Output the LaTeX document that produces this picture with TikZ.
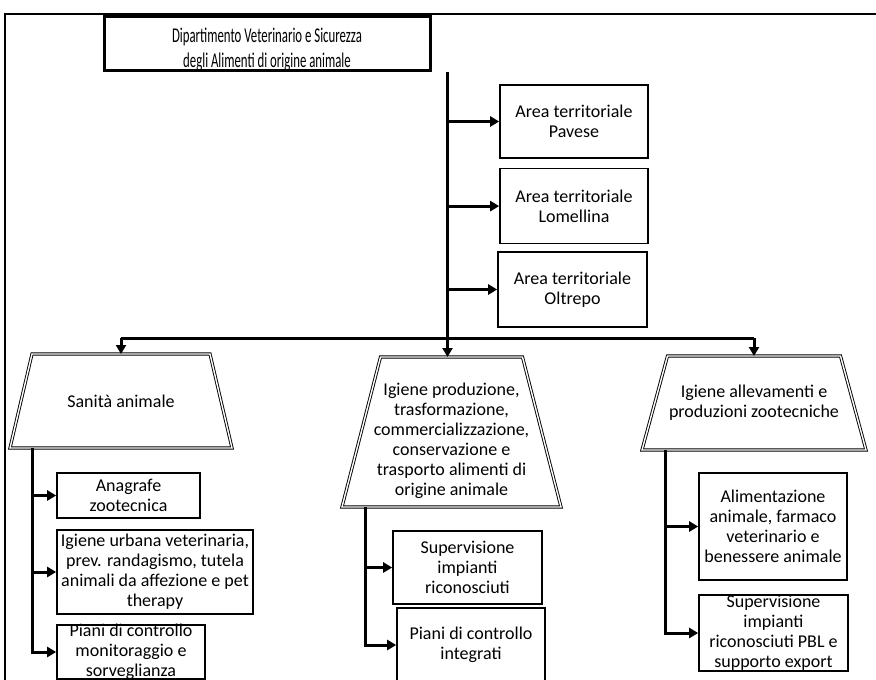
\documentclass[tikz,border=0pt]{standalone}
\usepackage{fontspec}
\setmainfont{Carlito}
\newfontfamily\titlefont[FakeStretch=0.61]{Carlito}
\usetikzlibrary{arrows.meta}
\usetikzlibrary{positioning}

\begin{document}
\begin{tikzpicture}[x=1pt,y=-1pt,>={Triangle[length=9pt,width=10pt]},
  line width=3pt,
  box/.style={rectangle,draw,line width=1.6pt,align=center,inner sep=1pt,
    font=\fontsize{18}{20}\selectfont},
  sector/.style={rectangle,inner sep=0pt,outer sep=0pt,align=center,
    font=\fontsize{18}{20}\selectfont},
  sectorline/.style={line width=0.9pt,double,double distance=1.4pt,line join=miter}]

  \useasboundingbox (0,0) rectangle (876,680);
  \fill[white] (0,0) rectangle (876,680);
  \clip (0,0) rectangle (876,680);
  \draw[line width=1.5pt] (5,14) rectangle (890,700);

  % department and areas
  \node[box,line width=3pt,minimum width=326pt,minimum height=54pt,
    font=\titlefont\fontsize{21}{25}\selectfont] (dip) at (267,43)
    {\raisebox{-7pt}[\height][\depth]{\begin{tabular}{@{}c@{}}Dipartimento Veterinario e Sicurezza\\degli Alimenti di origine animale\end{tabular}}};
  \node[box,minimum width=148pt,minimum height=73pt] (pav) at (574,121.5) {Area territoriale\\Pavese};
  \node[box,minimum width=148pt,minimum height=75pt] (lom) [below=9pt of pav] {Area territoriale\\Lomellina};
  \node[box,minimum width=149pt,minimum height=75pt] (olt) at (572.5,289.5) {Area territoriale\\Oltrepo};

  % sectors
  \node[sector,minimum width=222pt,minimum height=94pt] (san) at (121,401) {Sanità animale};
  \node[sector,minimum width=219pt,minimum height=150pt] (igp) at (451.5,432)
    {\raisebox{-9pt}[\height][\depth]{\begin{tabular}{@{}c@{}}Igiene produzione,\\trasformazione,\\commercializzazione,\\conservazione e\\trasporto alimenti di\\origine animale\end{tabular}}};
  \node[sector,minimum width=224pt,minimum height=94pt] (ial) at (754,403) {Igiene allevamenti e\\produzioni zootecniche};
  \draw[sectorline] (san.south west) -- ([xshift=22pt]san.north west)
    -- ([xshift=-22pt]san.north east) -- (san.south east) -- cycle;
  \draw[sectorline] (igp.south west) -- ([xshift=38.5pt]igp.north west)
    -- ([xshift=-38.5pt]igp.north east) -- (igp.south east) -- cycle;
  \draw[sectorline] (ial.south west) -- ([xshift=25.5pt]ial.north west)
    -- ([xshift=-25.5pt]ial.north east) -- (ial.south east) -- cycle;

  % units
  \node[box,minimum width=143pt,minimum height=45pt] (ana) at (128.5,495.5) {Anagrafe\\zootecnica};
  \node[box,minimum width=196pt,minimum height=84pt] (urb) at (155,572) {Igiene urbana veterinaria,\\prev. randagismo, tutela\\animali da affezione e pet\\therapy};
  \node[box,minimum width=148pt,minimum height=54pt,inner ysep=-3pt] (pia) at (131,652) {Piani di controllo\\monitoraggio e\\sorveglianza};
  \node[box,minimum width=149pt,minimum height=73pt] (imp) at (467.5,567.5) {Supervisione\\impianti\\riconosciuti};
  \node[box,minimum width=148pt,minimum height=74pt] (pci) at (471,645) {Piani di controllo\\integrati};
  \node[box,minimum width=148pt,minimum height=107pt] (ali) at (773,526.5) {Alimentazione\\animale, farmaco\\veterinario e\\benessere animale};
  \node[box,minimum width=149pt,minimum height=76pt,inner ysep=-2pt] (pbl) at (773.5,633) {Supervisione\\impianti\\riconosciuti PBL e\\supporto export};

  \coordinate (top) at (447.5,338);
  \coordinate (sb) at (32,0);
  \coordinate (mb) at (365,0);
  \coordinate (rb) at (665,0);

  \draw (dip.south -| top) -- (top);
  \draw (san.north |- top) -- (ial.north |- top);
  \path[->]
    (pav.west -| top) edge (pav.west)
    (lom.west -| top) edge (lom.west)
    (olt.west -| top) edge (olt.west)
    (san.north |- top) edge (san.north)
    (top) edge (top |- igp.north)
    (ial.north |- top) edge (ial.north);

  \draw[->] (sb |- san.south) |- (pia.west);
  \draw[->] (mb |- igp.south) |- (pci.west);
  \draw[->] (rb |- ial.south) |- (pbl.west);
  \path[->]
    (sb |- ana.west) edge (ana.west)
    (sb |- urb.west) edge (urb.west)
    (mb |- imp.west) edge (imp.west)
    (rb |- ali.west) edge (ali.west);
\end{tikzpicture}
\end{document}
